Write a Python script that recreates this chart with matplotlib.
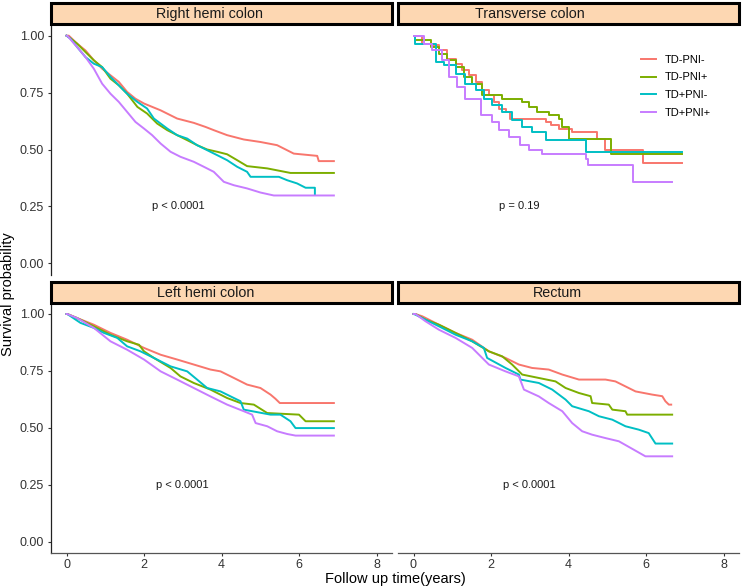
import matplotlib
matplotlib.use("Agg")
import matplotlib.pyplot as plt
from matplotlib.patches import Rectangle
from matplotlib.lines import Line2D

plt.rcParams['font.family'] = ['Liberation Sans', 'DejaVu Sans']

groups = ['TD-PNI-', 'TD-PNI+', 'TD+PNI-', 'TD+PNI+']
colors = ['#F8766D', '#7CAE00', '#00BFC4', '#C77CFF']
panels = ['Right hemi colon', 'Transverse colon', 'Left hemi colon', 'Rectum']
pvals = ['p < 0.0001', 'p = 0.19', 'p < 0.0001', 'p < 0.0001']
pval_x = [2.2, 2.2, 2.3, 2.3]
strip_text_x = [0.466, 0.387, 0.455, 0.469]

# Right hemi colon: corners of each curve (time, survival)
rh_t = [
    [0, 0.06, 0.275, 0.49, 0.705, 0.92, 1.135, 1.35, 1.565, 1.78, 2.0, 2.43, 2.855, 3.285, 3.59, 3.8, 4.145,
     4.575, 5.005, 5.435, 5.865, 6.47, 6.51, 6.9],
    [0, 0.06, 0.275, 0.49, 0.705, 0.92, 1.135, 1.35, 1.565, 1.83, 2.08, 2.34, 2.6, 2.855, 3.115, 3.37, 3.63,
     3.89, 4.145, 4.405, 4.66, 5.18, 5.78, 6.9],
    [0, 0.1, 0.275, 0.49, 0.705, 0.92, 1.135, 1.35, 1.565, 1.83, 2.08, 2.255, 2.6, 2.855, 3.115, 3.37, 3.63,
     3.89, 4.145, 4.405, 4.66, 4.75, 5.48, 5.695, 5.95, 6.17, 6.41, 6.41],
    [0, 0.02, 0.275, 0.49, 0.705, 0.92, 1.135, 1.35, 1.565, 1.78, 2.0, 2.21, 2.43, 2.685, 2.94, 3.285, 3.545,
     3.8, 4.06, 4.32, 4.66, 5.005, 5.35, 6.9],
]
rh_s = [
    [1.0, 1.0, 0.965, 0.935, 0.892, 0.855, 0.826, 0.797, 0.753, 0.723, 0.702, 0.672, 0.636, 0.617, 0.599,
     0.585, 0.563, 0.544, 0.533, 0.519, 0.482, 0.472, 0.449, 0.449],
    [1.0, 0.994, 0.965, 0.928, 0.892, 0.862, 0.811, 0.782, 0.745, 0.687, 0.658, 0.614, 0.585, 0.563, 0.541,
     0.519, 0.5, 0.49, 0.479, 0.453, 0.427, 0.417, 0.397, 0.397],
    [1.0, 0.987, 0.95, 0.906, 0.877, 0.862, 0.819, 0.782, 0.745, 0.709, 0.68, 0.636, 0.592, 0.563, 0.548,
     0.519, 0.497, 0.475, 0.453, 0.424, 0.402, 0.38, 0.38, 0.365, 0.351, 0.332, 0.332, 0.3],
    [1.0, 1.0, 0.95, 0.906, 0.855, 0.789, 0.745, 0.709, 0.665, 0.621, 0.592, 0.563, 0.526, 0.49, 0.468,
     0.446, 0.424, 0.402, 0.358, 0.343, 0.329, 0.311, 0.298, 0.298],
]

# Transverse colon: survival after each step (time, survival)
tc_t = [
    [0, 0.05, 0.225, 0.48, 0.655, 0.87, 1.085, 1.26, 1.43, 1.6, 1.77, 1.945, 2.07, 2.2, 2.375, 2.5, 3.41,
     3.54, 3.75, 4.095, 4.74, 4.94, 5.92, 6.93],
    [0, 0.05, 0.44, 0.655, 0.87, 1.085, 1.3, 1.515, 1.77, 2.29, 2.805, 2.98, 3.19, 3.49, 3.75, 3.84, 4.01,
     5.085, 6.93],
    [0, 0.05, 0.57, 0.78, 1.085, 1.34, 1.6, 1.815, 2.03, 2.29, 2.545, 2.805, 3.06, 3.41, 4.44, 6.93],
    [0, 0.01, 0.27, 0.48, 0.74, 0.91, 1.13, 1.34, 1.73, 2.03, 2.2, 2.46, 2.76, 2.98, 3.32, 4.44, 4.51,
     5.67, 6.68],
]
tc_s = [
    [1.0, 1.0, 0.965, 0.958, 0.936, 0.899, 0.877, 0.848, 0.826, 0.797, 0.76, 0.738, 0.709, 0.68, 0.665,
     0.636, 0.621, 0.607, 0.592, 0.577, 0.548, 0.497, 0.439, 0.439],
    [1.0, 0.979, 0.95, 0.921, 0.892, 0.862, 0.819, 0.789, 0.738, 0.723, 0.709, 0.687, 0.665, 0.65, 0.636,
     0.599, 0.548, 0.482, 0.482],
    [1.0, 0.965, 0.884, 0.87, 0.833, 0.789, 0.76, 0.723, 0.694, 0.665, 0.629, 0.599, 0.577, 0.541, 0.49,
     0.49],
    [1.0, 1.0, 0.965, 0.936, 0.892, 0.819, 0.775, 0.723, 0.65, 0.621, 0.585, 0.555, 0.519, 0.497, 0.482,
     0.46, 0.431, 0.358, 0.358],
]

# Left hemi colon: corners (time, survival)
lh_t = [
    [0, 0.02, 0.275, 0.705, 1.135, 1.565, 2.0, 2.43, 2.855, 3.285, 3.715, 3.975, 4.32, 4.66, 5.005, 5.265,
     5.39, 5.505, 6.9],
    [0, 0.02, 0.275, 0.705, 1.135, 1.565, 1.87, 2.0, 2.255, 2.685, 2.94, 3.285, 3.715, 4.145, 4.49, 4.835,
     5.18, 6.0, 6.17, 6.9],
    [0, 0.02, 0.36, 0.705, 0.965, 1.31, 1.565, 1.91, 2.255, 2.685, 3.115, 3.37, 3.63, 3.975, 4.32, 4.49,
     4.575, 5.265, 5.52, 5.78, 5.91, 6.9],
    [0, 0.02, 0.275, 0.705, 1.135, 1.565, 2.0, 2.43, 2.855, 3.285, 3.715, 4.145, 4.575, 4.79, 4.88, 5.18,
     5.435, 5.695, 5.91, 6.9],
]
lh_s = [
    [1.0, 1.0, 0.982, 0.953, 0.917, 0.887, 0.851, 0.821, 0.8, 0.778, 0.756, 0.748, 0.719, 0.69, 0.675,
     0.646, 0.628, 0.609, 0.609],
    [1.0, 1.0, 0.982, 0.946, 0.909, 0.88, 0.865, 0.836, 0.807, 0.763, 0.726, 0.697, 0.668, 0.631, 0.609,
     0.602, 0.565, 0.558, 0.529, 0.529],
    [1.0, 1.0, 0.961, 0.939, 0.917, 0.895, 0.858, 0.836, 0.807, 0.77, 0.748, 0.712, 0.675, 0.66, 0.631,
     0.617, 0.58, 0.558, 0.558, 0.529, 0.499, 0.499],
    [1.0, 1.0, 0.982, 0.939, 0.88, 0.843, 0.8, 0.748, 0.712, 0.675, 0.638, 0.602, 0.573, 0.558, 0.521,
     0.507, 0.485, 0.473, 0.466, 0.466],
]

# Rectum: corners (time, survival)
re_t = [
    [0, 0.05, 0.225, 0.655, 1.085, 1.515, 1.945, 2.375, 2.72, 3.06, 3.49, 3.84, 4.27, 4.955, 5.21, 5.47,
     5.73, 6.16, 6.42, 6.5, 6.59, 6.65],
    [0, 0.05, 0.31, 0.655, 1.085, 1.515, 1.945, 2.29, 2.545, 2.805, 3.235, 3.665, 3.925, 4.27, 4.57, 4.61,
     5.04, 5.13, 5.47, 5.515, 6.675],
    [0, 0.05, 0.31, 0.655, 1.085, 1.515, 1.815, 1.9, 2.375, 2.72, 2.76, 3.235, 3.58, 3.925, 4.095, 4.525,
     4.785, 5.13, 5.47, 5.815, 6.07, 6.245, 6.675],
    [0, 0.05, 0.31, 0.655, 1.085, 1.515, 1.945, 2.375, 2.72, 2.85, 3.235, 3.49, 3.84, 4.095, 4.353, 4.61,
     4.955, 5.3, 5.685, 5.985, 6.675],
]
re_s = [
    [1.0, 1.0, 0.99, 0.953, 0.917, 0.887, 0.836, 0.807, 0.778, 0.763, 0.756, 0.734, 0.712, 0.712, 0.704,
     0.682, 0.66, 0.646, 0.639, 0.617, 0.602, 0.602],
    [1.0, 1.0, 0.975, 0.953, 0.917, 0.88, 0.836, 0.814, 0.778, 0.734, 0.719, 0.704, 0.675, 0.653, 0.639,
     0.609, 0.602, 0.58, 0.573, 0.558, 0.558],
    [1.0, 0.997, 0.975, 0.946, 0.909, 0.88, 0.851, 0.807, 0.763, 0.734, 0.712, 0.697, 0.668, 0.624, 0.595,
     0.573, 0.551, 0.536, 0.507, 0.492, 0.477, 0.431, 0.431],
    [1.0, 1.0, 0.968, 0.931, 0.895, 0.851, 0.778, 0.748, 0.726, 0.668, 0.638, 0.609, 0.573, 0.521, 0.485,
     0.47, 0.455, 0.441, 0.404, 0.375, 0.375],
]

all_t = [rh_t, tc_t, lh_t, re_t]
all_s = [rh_s, tc_s, lh_s, re_s]

fig = plt.figure(figsize=(7.42, 5.88), dpi=100)
W, H = 742, 588

# panel boxes in pixels: (left, top, right, bottom)
boxes = [(51, 24.3, 392, 274.7), (398, 24.3, 739, 274.7),
         (51, 302.6, 392, 553.1), (398, 302.6, 739, 553.1)]
strip_h = 21

axes = []
for i, (l, t, r, b) in enumerate(boxes):
    ax = fig.add_axes([l / W, 1 - b / H, (r - l) / W, (b - t) / H])
    axes.append(ax)
    for k in range(4):
        if i == 1:
            ax.step(all_t[i][k], all_s[i][k], where='post', color=colors[k], lw=1.4)
        else:
            ax.plot(all_t[i][k], all_s[i][k], color=colors[k], lw=1.4)
    ax.set_xlim(-0.4, 8.4)
    ax.set_ylim(-0.05, 1.05)
    ax.set_xticks([0, 2, 4, 6, 8])
    ax.set_yticks([0, 0.25, 0.5, 0.75, 1.0])
    ax.set_yticklabels(['0.00', '0.25', '0.50', '0.75', '1.00'])
    for side in ['top', 'right']:
        ax.spines[side].set_visible(False)
    left_col = i in (0, 2)
    bottom_row = i in (2, 3)
    ax.spines['left'].set_visible(left_col)
    ax.spines['bottom'].set_visible(bottom_row)
    ax.tick_params(axis='y', left=left_col, labelleft=left_col, labelsize=9,
                   colors='#333333', length=2.5, width=0.8, pad=2.5)
    ax.tick_params(axis='x', bottom=bottom_row, labelbottom=bottom_row, labelsize=9,
                   colors='#333333', length=2.5, width=0.8, pad=1.5)
    ax.spines['left'].set_linewidth(0.9)
    ax.spines['left'].set_color('#222222')
    ax.spines['bottom'].set_linewidth(0.9)
    ax.spines['bottom'].set_color('#555555')
    ax.text(pval_x[i], 0.25, pvals[i], fontsize=8, ha='left', va='center', color='#1a1a1a')

    # strip
    sax = fig.add_axes([l / W, 1 - t / H, (r - l) / W, strip_h / H])
    sax.set_xlim(0, 1)
    sax.set_ylim(0, 1)
    sax.axis('off')
    sax.add_patch(Rectangle((0, 0), 1, 1, facecolor='#FDD7B2', edgecolor='black',
                            lw=2.2, clip_on=False))
    sax.text(strip_text_x[i], 0.48, panels[i], ha='center', va='center', fontsize=10.3,
             color='#1a1a1a')

handles = [Line2D([], [], color=c, lw=1.4) for c in colors]
axes[1].legend(handles, groups, loc='upper left', bbox_to_anchor=(0.69, 0.91),
               frameon=False, fontsize=8, handlelength=1.3, handletextpad=0.8,
               labelspacing=0.7, borderpad=0.2)

fig.text(8 / W, 1 - 294 / H, 'Survival probability', rotation=90, ha='center',
         va='center', fontsize=10.5)
fig.text(395 / W, 1 - 579 / H, 'Follow up time(years)', ha='center', va='center',
         fontsize=10.5)

fig.savefig('out.png', dpi=100)
